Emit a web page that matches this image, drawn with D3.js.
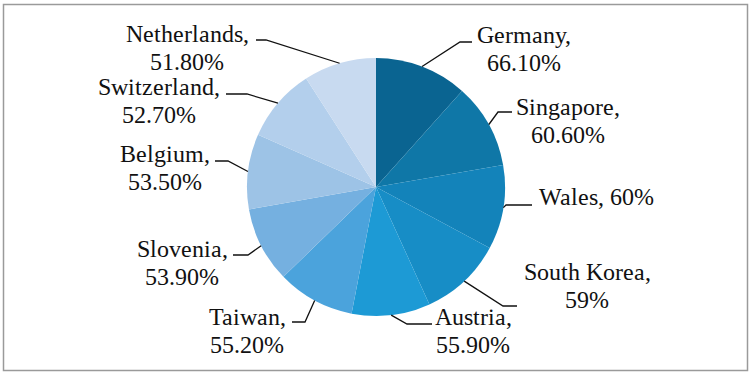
<!DOCTYPE html>
<html>
<head>
  <meta charset="UTF-8" />
  <style>
    @font-face { font-family: "LabelSerif"; src: local("Liberation Serif"), local("LiberationSerif"); }
    body { margin: 0; }
  </style>
</head>
<body>
    <svg width="752" height="376" id="svg"></svg>
    <script src="https://cdn.jsdelivr.net/npm/d3@7/dist/d3.min.js"></script>
    <script>
      // data
      const countries = ["Germany", "Singapore", "Wales", "South Korea", "Austria",
        "Taiwan", "Slovenia", "Belgium", "Switzerland", "Netherlands"];
      const values = [66.1, 60.6, 60, 59, 55.9, 55.2, 53.9, 53.5, 52.7, 51.8];
      const valueLabels = ["66.10%", "60.60%", "60%", "59%", "55.90%",
        "55.20%", "53.90%", "53.50%", "52.70%", "51.80%"];
      const colors = ["#0a6491", "#0f77a7", "#1383ba", "#178dc6", "#1d9ad5",
        "#4ba3dc", "#75b0e0", "#9dc3e6", "#b3cfec", "#c8daf0"];

      // label placement (text center x, first baseline y) and leader knee / end x
      const labelPos = [[524, 43], [568, 115], [596, 205], [587, 280], [473, 325],
        [247, 325], [182, 257], [165, 162], [159, 95], [187, 42]];
      const knees = [[460, 42], [498, 112], [506, 205], [503, 306], [407, 324],
        [305, 322], [248, 255], [228, 161], [247, 94], [266, 40]];
      const kneeEnds = [472, 512, 532, 517, 432, 292, 233, 215, 226, 256];

      const svg = d3.select("#svg");
      const cx = 376, cy = 187, radius = 129;

      svg.append("rect")
        .attr("x", 3.5).attr("y", 4.5)
        .attr("width", 744).attr("height", 366)
        .attr("fill", "none")
        .attr("stroke", "#9a9a9a")
        .attr("stroke-width", 1.5);

      const g = svg.append("g").attr("transform", `translate(${cx},${cy})`);

      const pie = d3.pie().sort(null).value(d => d);
      const arcs = pie(values);
      const arc = d3.arc().innerRadius(0).outerRadius(radius);

      g.selectAll("path")
        .data(arcs)
        .join("path")
        .attr("d", arc)
        .attr("fill", (d, i) => colors[i]);

      // leader lines
      svg.selectAll("polyline")
        .data(arcs)
        .join("polyline")
        .attr("fill", "none")
        .attr("stroke", "#111")
        .attr("stroke-width", 1.3)
        .attr("points", (d, i) => {
          const a = (d.startAngle + d.endAngle) / 2;
          const p = [cx + radius * Math.sin(a), cy - radius * Math.cos(a)];
          return [p, knees[i], [kneeEnds[i], knees[i][1]]].map(q => q.join(",")).join(" ");
        });

      // labels, one text per line
      const lines = [];
      countries.forEach((c, i) => {
        if (c === "Wales") {
          lines.push({ s: c + ", " + valueLabels[i], x: labelPos[i][0], y: labelPos[i][1] });
        } else {
          lines.push({ s: c + ",", x: labelPos[i][0], y: labelPos[i][1] });
          lines.push({ s: valueLabels[i], x: labelPos[i][0], y: labelPos[i][1] + 28 });
        }
      });

      svg.selectAll("text")
        .data(lines)
        .join("text")
        .attr("x", d => d.x)
        .attr("y", d => d.y)
        .attr("font-size", 24)
        .style("font-family", '"LabelSerif", "Liberation Serif", serif')
        .attr("fill", "#111")
        .attr("text-anchor", "middle")
        .text(d => d.s);
    </script>
</body>
</html>
